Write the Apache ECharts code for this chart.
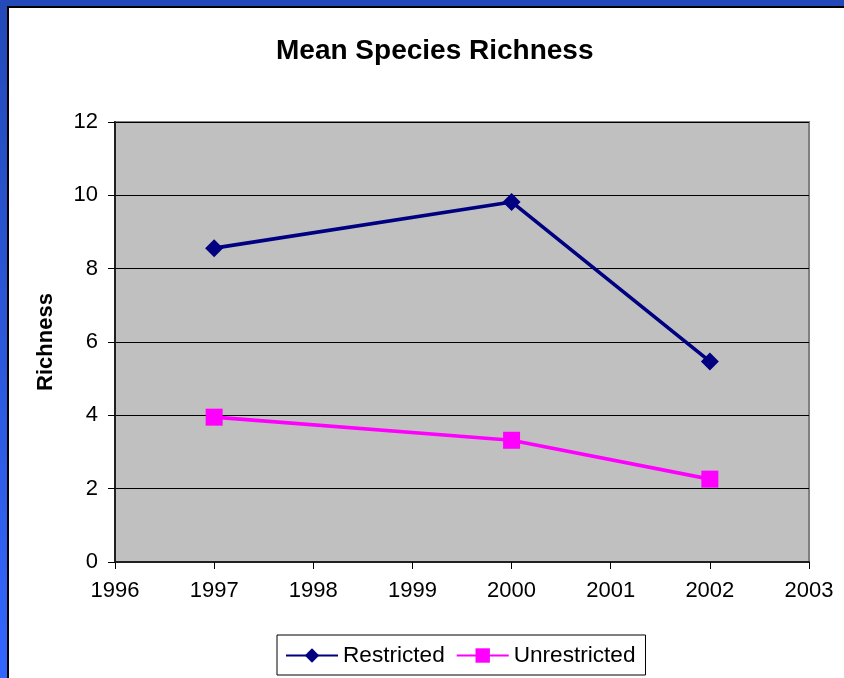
<!DOCTYPE html>
<html>
<head>
<meta charset="utf-8">
<script src="https://cdn.jsdelivr.net/npm/echarts@6/dist/echarts.min.js"></script>
<style>
  html, body { margin: 0; padding: 0; }
  body { width: 844px; height: 678px; overflow: hidden; }
  #frame {
    position: absolute; left: 0; top: 0; width: 844px; height: 678px;
    background: linear-gradient(to bottom, #2449b8 0%, #2d5be0 60%, #3366ff 100%);
  }
  #sheet {
    position: absolute; left: 7px; top: 6px; right: 0; bottom: 0;
    background: #ffffff;
    border-left: 2px solid #000; border-top: 2px solid #000;
  }
  #chart { position: absolute; left: 0; top: 0; width: 844px; height: 678px; }
</style>
</head>
<body>
<div id="frame"><div id="sheet"></div></div>
<div id="chart"></div>
<script>
// Survey years and mean species richness per treatment
const years = [1997, 2000, 2002];
const restricted = [8.56, 9.82, 5.47];
const unrestricted = [3.95, 3.32, 2.26];
const seriesNames = ['Restricted', 'Unrestricted'];

const chart = echarts.init(document.getElementById('chart'), null, { renderer: 'canvas' });
const font = 'Liberation Sans, Arial, Helvetica, sans-serif';

chart.setOption({
  animation: false,
  backgroundColor: 'transparent',
  textStyle: { fontFamily: font },
  title: {
    text: 'Mean Species Richness',
    left: 271,
    top: 32,
    textStyle: { fontFamily: font, fontSize: 28, fontWeight: 'bold', color: '#000' }
  },
  grid: {
    left: 115, top: 122, right: 35, bottom: 116,
    show: true,
    backgroundColor: '#c0c0c0',
    borderColor: '#808080',
    borderWidth: 2
  },
  legend: {
    data: seriesNames,
    left: 277,
    top: 635,
    orient: 'horizontal',
    itemWidth: 52,
    itemHeight: 18,
    itemGap: 11,
    padding: [9, 10, 8, 8],
    borderColor: '#000',
    borderWidth: 1,
    backgroundColor: '#fff',
    textStyle: { fontFamily: font, fontSize: 22.6, color: '#000' }
  },
  xAxis: {
    type: 'value',
    min: 1996,
    max: 2003,
    interval: 1,
    axisLine: { show: true, onZero: false, lineStyle: { color: '#202020', width: 2 } },
    axisTick: { show: true, inside: false, length: 7, lineStyle: { color: '#000', width: 1 } },
    splitLine: { show: false },
    axisLabel: {
      margin: 18,
      fontFamily: font, fontSize: 22, color: '#000',
      formatter: v => String(v)
    }
  },
  yAxis: {
    type: 'value',
    min: 0,
    max: 12,
    interval: 2,
    name: 'Richness',
    nameLocation: 'middle',
    nameRotate: 90,
    nameGap: 58,
    nameTextStyle: { fontFamily: font, fontSize: 22, fontWeight: 'bold', color: '#000' },
    axisLine: { show: true, lineStyle: { color: '#202020', width: 2 } },
    axisTick: { show: true, inside: false, length: 7, lineStyle: { color: '#000', width: 1 } },
    splitLine: { show: true, lineStyle: { color: '#000', width: 1 } },
    axisLabel: { margin: 17, fontFamily: font, fontSize: 22, color: '#000' }
  },
  series: [
    {
      name: seriesNames[0],
      type: 'line',
      data: years.map((y, i) => [y, restricted[i]]),
      symbol: 'diamond',
      symbolSize: 18,
      showAllSymbol: true,
      color: '#000080',
      lineStyle: { color: '#000080', width: 3.6 },
      itemStyle: { color: '#000080' },
      emphasis: { disabled: true },
      z: 3
    },
    {
      name: seriesNames[1],
      type: 'line',
      data: years.map((y, i) => [y, unrestricted[i]]),
      symbol: 'rect',
      symbolSize: 17,
      showAllSymbol: true,
      color: '#ff00ff',
      lineStyle: { color: '#ff00ff', width: 3.6 },
      itemStyle: { color: '#ff00ff' },
      emphasis: { disabled: true },
      z: 2
    }
  ]
});
</script>
</body>
</html>
